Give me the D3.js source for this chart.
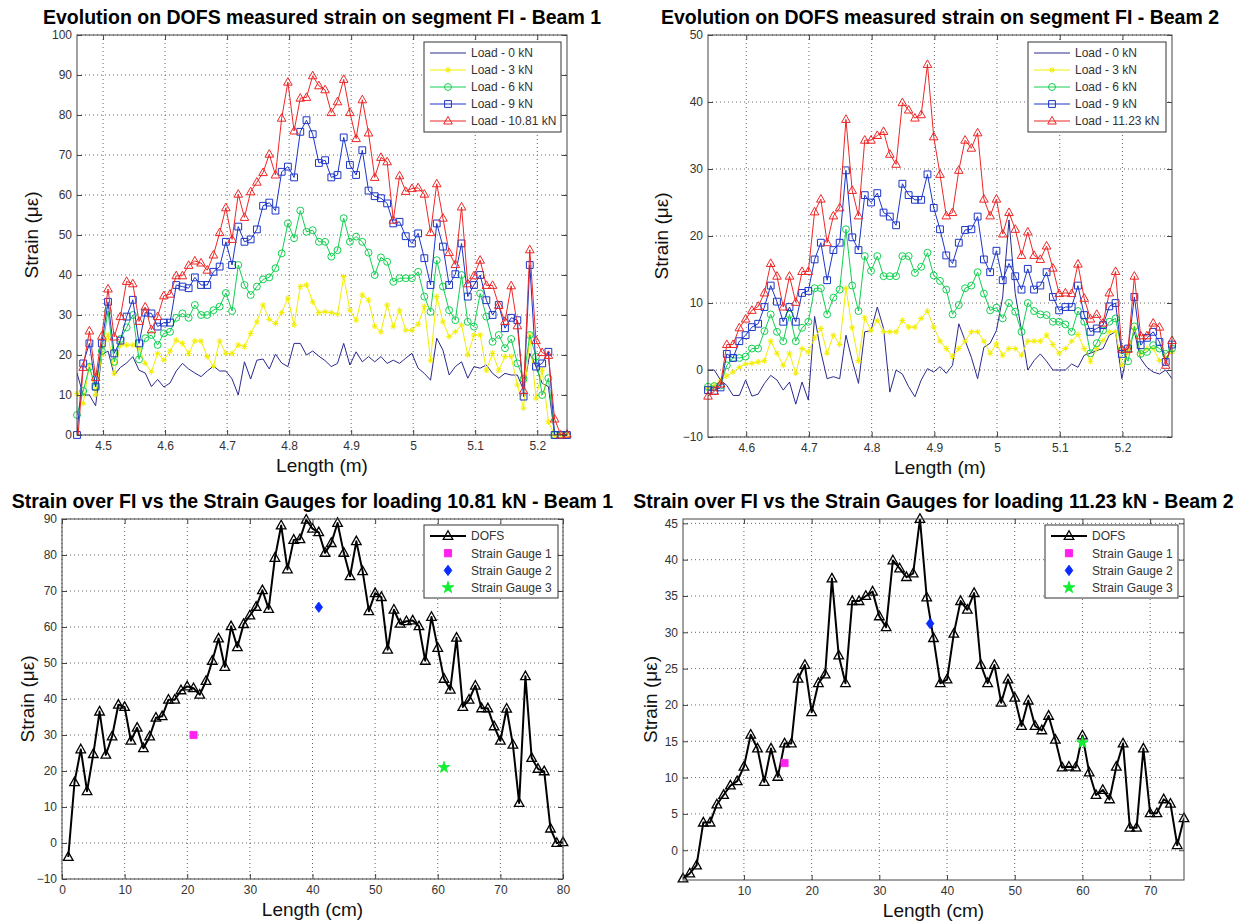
<!DOCTYPE html>
<html>
<head>
<meta charset="utf-8">
<script src="https://cdn.jsdelivr.net/npm/d3@7/dist/d3.min.js"></script>
<style>
body { margin: 0; background: #fff; }
svg { font-family: Arial, "Liberation Sans", sans-serif; }
</style>
</head>
<body>
<script>
// ---- Beam 1 : DOFS segment FI, 80 readings (1 cm apart), start of segment in metres
var beam1Start = 4.458;
var beam1Cm = [1,2,3,4,5,6,7,8,9,10,11,12,13,14,15,16,17,18,19,20,
	21,22,23,24,25,26,27,28,29,30,31,32,33,34,35,36,37,38,39,40,
	41,42,43,44,45,46,47,48,49,50,51,52,53,54,55,56,57,58,59,60,
	61,62,63,64,65,66,67,68,69,70,71,72,73,74,75,76,77,78,79,80];

var beam1Load0 = [15.5,10,10,7.3,20,21,15,16.9,18,19.6,
	16.2,15.5,12.1,13.9,12,13,16,17.9,16.5,15.5,
	14.6,16,17.2,16,16,14,10,18.3,14,18.7,
	19,16.5,20.2,18,17.1,22.9,22.9,20,21,19.7,
	18.6,17.1,17.9,22.9,17.5,20.8,18.3,19.6,18.3,19.6,
	17.9,18.7,17.9,19.2,20.4,16.7,15.4,13.7,24.2,21.2,
	15,17.1,18.3,14.2,17.1,16.7,17.5,15.4,14.2,15.4,
	15,15,11.2,20.4,17.1,12.9,12.1,0,0,0];
var beam1Load3 = [10.4,7.9,17.5,10,20,25,15.4,22.5,22.5,22.5,
	21.7,17.9,15.8,20.4,18.7,21,23.7,22.9,20.4,23.5,
	23.5,19.6,17.1,23.5,20.4,20.4,22.5,22.1,25.4,28.3,
	32.5,28.9,27.9,30.6,34.2,27.5,37.1,37.5,33.3,30.6,
	30.8,30.6,30.2,39.6,31.2,28.7,35,33.7,27.2,25.8,
	32.5,27.1,31.2,26.2,26.2,27.7,32.1,18.7,34.6,28.3,
	24.6,25.8,27.5,20,25,25,16.2,20.4,16.2,19.6,
	19.6,12.5,6.7,25,9.2,16.2,3.3,0,0,0];
var beam1Load6 = [5,11,17,12,21,31,18.3,24,26.9,30,
	18.9,24.2,25,22.5,25.4,25.8,29.3,30.4,29.3,32.5,
	30,30,31.2,32.1,35.5,31,42.5,37.5,35,37.1,
	38.9,39.4,41.7,45.4,52.9,49.2,56.1,50.8,51.2,48.3,
	48.3,44.6,46.2,54.2,48.3,49.6,48.3,45.6,40,44.4,
	43.3,38.3,39.2,39.2,39.2,40.8,34.6,30.8,43.7,37.1,
	31.2,28.7,40,28.3,27.1,35.4,29.6,23.3,25,21.7,
	24,17.9,14,25,19.6,10,14.2,0,0,0];
var beam1Load9 = [0,17.9,22.9,12.1,22.9,33.3,20.4,23.6,29.6,33.8,
	22.9,30.6,30.4,27.1,28.1,28.1,37.5,37.1,36.7,39.4,
	37.5,37.5,40.8,42.1,48.3,42.5,52.1,48.3,48.9,51.4,
	57.3,58.1,56.1,65.8,67.1,64.4,75.8,78.7,75.2,68,
	68.7,64.4,65,74.4,67.5,65,71.2,61.1,59.7,59.2,
	57.9,52.9,53.3,49.7,47.9,50.4,44.2,37.5,52.9,47.1,
	37.5,40.2,47.9,34.6,37.5,40,33.7,30,32.5,26.7,
	29.3,28.7,9.6,42.5,17.1,17.9,20.8,0,0,0];
// 10.81 kN = the DOFS curve of the lower left chart
var beam1Load1081 = [-3.9,16.9,26,14.4,24.7,36.5,24.5,29.6,38.4,37.8,
	28.4,32,26.3,29.6,34.8,35.2,39.8,39.8,42.4,43.5,
	43,41.2,45,50.6,56.8,48.9,60.2,54.4,60.8,63.2,
	65.6,70.2,65,79.2,88.2,76,84.2,84.4,89.8,87.3,
	86.3,80.6,83.3,88.9,80.6,74.1,83.8,75.5,64.4,69.4,
	68.3,53.7,64.8,60.9,61.6,61.8,60.2,50.6,62.8,54.2,
	45.6,42.6,57,37.8,39.8,43.7,37.4,37.4,32.4,28.4,
	37.3,27.3,11.1,46.3,23.6,20.6,19.9,4,0,0.2];
var beam1GaugeCm = [21, 41, 61];
var beam1GaugeStrain = [30, 65.5, 21];

// ---- Beam 2 : 75 readings
var beam2Start = 4.539;
var beam2Cm = [1,2,3,4,5,6,7,8,9,10,11,12,13,14,15,16,17,18,19,20,
	21,22,23,24,25,26,27,28,29,30,31,32,33,34,35,36,37,38,39,40,
	41,42,43,44,45,46,47,48,49,50,51,52,53,54,55,56,57,58,59,60,
	61,62,63,64,65,66,67,68,69,70,71,72,73,74,75];

var beam2Load0 = [0,0,-1.5,-2.3,-3.8,-3.8,-1.5,-3.9,-3.6,-2,
	-0.8,-1.5,-3,-1.8,-5.1,-1.8,-4.5,8,2.7,-1.3,
	-1,-1.3,5.2,1.4,-2,5.7,5.9,9.4,6.2,-3.3,
	0,-0.6,-2.5,-4,-1.5,0.2,-0.3,0.5,-0.5,0.7,
	6.9,4.4,1.9,-1.3,3.4,4,5.9,10.9,22.4,11.4,
	5.9,0,1.4,2.4,1.3,0,0,0,0.9,0.4,
	2.2,2.5,2.9,3.2,5.2,5.7,-1.3,3.2,5.7,1.7,
	0.4,-0.3,-0.6,0,-1.3];
var beam2Load3 = [-2.8,-2.3,-1.6,-0.9,-0.3,0.4,0.9,1,1.2,1.4,
	4.3,2.5,0.7,2.5,-0.5,3.2,2.7,4.8,6.2,2.5,
	5.2,3.8,12.2,6.3,1.4,7.8,5.9,7.4,5.7,5.7,
	5.7,7.4,6.4,6.4,7.7,8.8,6.4,4.3,3.2,2,
	3.2,4.3,5.7,5.7,4.3,2.5,3.9,2.2,3.2,3.2,
	2.2,4.3,4.3,4.3,5.2,3.8,2.5,3.2,4.3,5.3,
	3.2,1.3,3.2,4.4,5.7,5.7,0.7,2.7,6.2,2.5,
	3.2,3.2,1.4,1.9,2.7];
var beam2Load6 = [-2.5,-2.4,-2.3,0.7,1.8,1.8,2,3.2,3.2,5.8,
	8.3,5.7,4.3,8.3,4.3,6.3,7.2,12.2,12.2,8.3,
	10.8,12,21,12.6,8.8,17,14.8,17,14,14,
	14,17,17,14.5,15.4,17.5,14.1,13.3,12,8.3,
	9.7,12.2,12.6,14.6,11.4,8.9,9.3,7.7,10,8.7,
	5.7,10,8.8,8.3,8.2,7.2,7.2,6.8,5.7,8.8,
	7.2,2.5,4,5.9,7.2,7.7,3,1.3,6.5,2.4,
	2.7,3.7,3.2,2.4,3.2];
var beam2Load9 = [-3,-3.1,-2.6,2.4,1.8,4.3,5.2,6.4,6.9,9.4,
	12.6,10.2,7.2,9.4,7.2,11.5,11.8,16.5,19,13.4,
	17.9,19,29.8,19.8,17.9,26.1,25,26.4,23.5,22.9,
	21.6,27.8,26.1,25.4,25.4,29.2,24.2,21,17.1,15.9,
	19,20.9,21,22.9,16.5,14.6,17.8,13.4,15.9,14,
	12,15.1,12,12.6,14.6,10.9,8.9,9.4,9.4,12.6,
	8.2,5.7,6.2,6.7,9.5,10,2.4,3.2,10.9,3.7,
	4.8,5.7,4.2,1.2,3.8];
// 11.23 kN = the DOFS curve of the lower right chart
var beam2Load1123 = [-3.9,-3.2,-2.1,3.8,3.8,6.3,7.6,8.9,9.5,11.5,
	15.9,14,9.4,14,10.1,14.7,14.7,23.6,25.5,19,
	23,24.2,37.4,26.8,23,34.3,34.3,35,35.6,32.2,
	30.7,39.9,38.8,37.6,38.1,45.6,34.8,29.2,23,23.5,
	29.8,34.3,33.1,35.4,25.5,23,25.5,20.3,23.5,21,
	17.1,20.6,17.1,16.5,18.5,15.2,11.4,11.5,11.4,15.8,
	10.7,7.6,8.3,7,11.5,14.7,3.1,3.1,14,5.1,
	5.1,7,6.4,0.7,4.4];
var beam2GaugeCm = [16, 37.5, 60];
var beam2GaugeStrain = [12, 31.2, 14.8];

var loadNames1 = ["Load - 0 kN", "Load - 3 kN", "Load - 6 kN", "Load - 9 kN", "Load - 10.81 kN"];
var loadNames2 = ["Load - 0 kN", "Load - 3 kN", "Load - 6 kN", "Load - 9 kN", "Load - 11.23 kN"];
var gaugeNames = ["DOFS", "Strain Gauge 1", "Strain Gauge 2", "Strain Gauge 3"];

var ticksMetre1 = [4.5, 4.6, 4.7, 4.8, 4.9, 5, 5.1, 5.2];
var ticksMetre2 = [4.6, 4.7, 4.8, 4.9, 5, 5.1, 5.2];
var ticksStrain1 = [0,10,20,30,40,50,60,70,80,90,100];
var ticksStrain2 = [-10,0,10,20,30,40,50];
var ticksCm1 = [0,10,20,30,40,50,60,70,80];
var ticksStrainG1 = [-10,0,10,20,30,40,50,60,70,80,90];
var ticksCm2 = [10,20,30,40,50,60,70];
var ticksStrainG2 = [0,5,10,15,20,25,30,35,40,45];

function toMetre(start, cm) {
	return cm.map(function(c) { return start + (c - 1) / 100; });
}

// ---- styles
var loadStyles = [
	{color: "#2a2a90", marker: null},
	{color: "#f2ee00", marker: "ast"},
	{color: "#12d050", marker: "circ"},
	{color: "#1c35c8", marker: "sq"},
	{color: "#ee2626", marker: "tri"}
];

function markerPath(type) {
	if (type == "tri") return "M0,-4.6L4.3,3L-4.3,3Z";
	if (type == "triB") return "M0,-5.2L4.8,3.4L-4.8,3.4Z";
	if (type == "sq") return "M-3.4,-3.4H3.4V3.4H-3.4Z";
	if (type == "circ") return d3.symbol().type(d3.symbolCircle).size(38)();
	if (type == "ast") return "M-3,0H3M0,-3V3M-2.1,-2.1L2.1,2.1M-2.1,2.1L2.1,-2.1";
	if (type == "fsq") return "M-3.6,-3.6H3.6V3.6H-3.6Z";
	if (type == "dia") return "M0,-5.2L3.8,0L0,5.2L-3.8,0Z";
	if (type == "star") return d3.symbol().type(d3.symbolStar).size(42)();
	return "";
}

var svg = d3.select("body").append("svg")
	.attr("width", 1251)
	.attr("height", 921);

function drawPanel(p) {
	var left = p.box[0], top = p.box[1], right = p.box[2], bottom = p.box[3];
	var x = d3.scaleLinear().domain(p.xDomain).range([left, right]);
	var y = d3.scaleLinear().domain(p.yDomain).range([bottom, top]);
	var g = svg.append("g");

	g.append("rect")
		.attr("x", left).attr("y", top)
		.attr("width", right - left).attr("height", bottom - top)
		.attr("fill", "#fff");

	// dotted grid
	g.selectAll(".vgrid").data(p.xTicks).enter().append("line")
		.attr("x1", function(d) { return x(d); })
		.attr("x2", function(d) { return x(d); })
		.attr("y1", top).attr("y2", bottom)
		.attr("stroke", "#666").attr("stroke-width", 1)
		.attr("stroke-dasharray", "1,3");
	g.selectAll(".hgrid").data(p.yTicks).enter().append("line")
		.attr("x1", left).attr("x2", right)
		.attr("y1", function(d) { return y(d); })
		.attr("y2", function(d) { return y(d); })
		.attr("stroke", "#666").attr("stroke-width", 1)
		.attr("stroke-dasharray", "1,3");

	var clipId = "clip" + p.id;
	svg.append("clipPath").attr("id", clipId).append("rect")
		.attr("x", left).attr("y", top)
		.attr("width", right - left).attr("height", bottom - top);

	p.series.forEach(function(s) {
		var pts = s.xs.map(function(xv, i) { return [xv, s.values[i]]; });
		var line = d3.line()
			.x(function(d) { return x(d[0]); })
			.y(function(d) { return y(d[1]); });
		g.append("path")
			.attr("d", line(pts))
			.attr("fill", "none")
			.attr("stroke", s.color)
			.attr("stroke-width", s.width)
			.attr("stroke-linejoin", "round")
			.attr("clip-path", "url(#" + clipId + ")");
		if (s.marker) {
			var inside = pts.filter(function(d) {
				return d[1] >= p.yDomain[0] - 0.05 && d[1] <= p.yDomain[1] + 0.05;
			});
			g.selectAll(null).data(inside).enter().append("path")
				.attr("d", markerPath(s.marker))
				.attr("transform", function(d) { return "translate(" + x(d[0]) + "," + y(d[1]) + ")"; })
				.attr("fill", "none")
				.attr("stroke", s.markerColor || s.color)
				.attr("stroke-width", s.markerWidth || 1);
		}
	});

	(p.gauges || []).forEach(function(gg) {
		g.append("path")
			.attr("d", markerPath(gg.marker))
			.attr("transform", "translate(" + x(gg.x) + "," + y(gg.y) + ")")
			.attr("fill", gg.color)
			.attr("stroke", gg.color)
			.attr("stroke-width", 0.8);
	});

	// box + inward ticks on all sides
	var bottomAxis = g.append("g").attr("transform", "translate(0," + bottom + ")")
		.call(d3.axisBottom(x).tickValues(p.xTicks).tickFormat(p.xFormat)
			.tickSizeInner(-5).tickSizeOuter(0).tickPadding(6));
	var leftAxis = g.append("g").attr("transform", "translate(" + left + ",0)")
		.call(d3.axisLeft(y).tickValues(p.yTicks).tickFormat(d3.format(""))
			.tickSizeInner(-5).tickSizeOuter(0).tickPadding(5));
	var topAxis = g.append("g").attr("transform", "translate(0," + top + ")")
		.call(d3.axisTop(x).tickValues(p.xTicks).tickFormat("")
			.tickSizeInner(-5).tickSizeOuter(0));
	var rightAxis = g.append("g").attr("transform", "translate(" + right + ",0)")
		.call(d3.axisRight(y).tickValues(p.yTicks).tickFormat("")
			.tickSizeInner(-5).tickSizeOuter(0));
	[bottomAxis, leftAxis, topAxis, rightAxis].forEach(function(a) {
		a.attr("font-family", null).attr("font-size", 12);
		a.select(".domain").remove();
		a.selectAll(".tick line").attr("stroke", "#444");
		a.selectAll(".tick text").attr("fill", "#333");
	});

	g.append("rect")
		.attr("x", left).attr("y", top)
		.attr("width", right - left).attr("height", bottom - top)
		.attr("fill", "none").attr("stroke", "#444").attr("stroke-width", 1);

	// texts
	g.append("text")
		.attr("x", (left + right) / 2).attr("y", top - 11)
		.attr("text-anchor", "middle")
		.attr("font-size", 19.5).attr("font-weight", "bold")
		.attr("fill", "#000")
		.text(p.title);
	g.append("text")
		.attr("x", (left + right) / 2).attr("y", bottom + 37)
		.attr("text-anchor", "middle")
		.attr("font-size", 19).attr("fill", "#111")
		.text(p.xLabel);
	g.append("text")
		.attr("transform", "translate(" + p.yLabelX + "," + ((top + bottom) / 2) + ") rotate(-90)")
		.attr("text-anchor", "middle")
		.attr("font-size", 19).attr("fill", "#111")
		.text("Strain (με)");

	// legend
	var lg = p.legend;
	var leg = g.append("g");
	leg.append("rect")
		.attr("x", lg.x).attr("y", lg.y)
		.attr("width", lg.w).attr("height", lg.h)
		.attr("fill", "#fff").attr("stroke", "#333").attr("stroke-width", 1);
	lg.items.forEach(function(it, i) {
		var ry = lg.y + lg.first + i * lg.step;
		if (it.line) {
			leg.append("line")
				.attr("x1", lg.x + 6).attr("x2", lg.x + 42)
				.attr("y1", ry).attr("y2", ry)
				.attr("stroke", it.color).attr("stroke-width", it.width);
		}
		if (it.marker) {
			leg.append("path")
				.attr("d", markerPath(it.marker))
				.attr("transform", "translate(" + (lg.x + 24) + "," + ry + ")")
				.attr("fill", it.filled ? it.color : "none")
				.attr("stroke", it.markerColor || it.color)
				.attr("stroke-width", it.markerWidth || 1);
		}
		leg.append("text")
			.attr("x", lg.x + 47).attr("y", ry)
			.attr("dy", "0.36em")
			.attr("font-size", 12).attr("fill", "#333")
			.text(it.name);
	});
}

function loadSeries(xs, lists) {
	return lists.map(function(vals, i) {
		return {xs: xs, values: vals, color: loadStyles[i].color, width: 1, marker: loadStyles[i].marker};
	});
}

function loadLegend(names) {
	return names.map(function(n, i) {
		return {name: n, line: true, color: loadStyles[i].color, width: 1, marker: loadStyles[i].marker};
	});
}

var gaugeStyles = [
	{color: "#ff22ee", marker: "fsq"},
	{color: "#0a2cff", marker: "dia"},
	{color: "#11ee33", marker: "star"}
];

function gaugeLegend() {
	var items = [{name: gaugeNames[0], line: true, color: "#000", width: 2, marker: "triB", markerWidth: 1.3}];
	gaugeStyles.forEach(function(gs, i) {
		items.push({name: gaugeNames[i + 1], line: false, color: gs.color, marker: gs.marker, filled: true});
	});
	return items;
}

function gaugePoints(cm, strain) {
	return cm.map(function(c, i) {
		return {x: c, y: strain[i], color: gaugeStyles[i].color, marker: gaugeStyles[i].marker};
	});
}

var metre1 = toMetre(beam1Start, beam1Cm);
var metre2 = toMetre(beam2Start, beam2Cm);

drawPanel({
	id: 1, box: [77, 35, 567, 435],
	xDomain: [4.458, 5.248], yDomain: [0, 100],
	xTicks: ticksMetre1, yTicks: ticksStrain1, xFormat: d3.format(""),
	title: "Evolution on DOFS measured strain on segment FI - Beam 1",
	xLabel: "Length (m)", yLabelX: 38,
	series: loadSeries(metre1, [beam1Load0, beam1Load3, beam1Load6, beam1Load9, beam1Load1081]),
	legend: {x: 424, y: 42, w: 137, h: 90, first: 11, step: 17, items: loadLegend(loadNames1)}
});

drawPanel({
	id: 2, box: [708, 35, 1172, 437],
	xDomain: [4.539, 5.279], yDomain: [-10, 50],
	xTicks: ticksMetre2, yTicks: ticksStrain2, xFormat: d3.format(""),
	title: "Evolution on DOFS measured strain on segment FI - Beam 2",
	xLabel: "Length (m)", yLabelX: 668,
	series: loadSeries(metre2, [beam2Load0, beam2Load3, beam2Load6, beam2Load9, beam2Load1123]),
	legend: {x: 1028, y: 42, w: 138, h: 90, first: 11, step: 17, items: loadLegend(loadNames2)}
});

drawPanel({
	id: 3, box: [62, 519, 563, 879],
	xDomain: [0, 80], yDomain: [-10, 90],
	xTicks: ticksCm1, yTicks: ticksStrainG1, xFormat: d3.format(""),
	title: "Strain over FI vs the Strain Gauges for loading 10.81 kN - Beam 1",
	xLabel: "Length (cm)", yLabelX: 34,
	series: [{xs: beam1Cm, values: beam1Load1081, color: "#000", width: 2, marker: "triB", markerWidth: 1.3}],
	gauges: gaugePoints(beam1GaugeCm, beam1GaugeStrain),
	legend: {x: 424, y: 525, w: 134, h: 73, first: 11, step: 17.2, items: gaugeLegend()}
});

drawPanel({
	id: 4, box: [683, 519, 1184, 880],
	xDomain: [1, 75], yDomain: [-4.1, 45.6],
	xTicks: ticksCm2, yTicks: ticksStrainG2, xFormat: d3.format(""),
	title: "Strain over FI vs the Strain Gauges for loading 11.23 kN - Beam 2",
	xLabel: "Length (cm)", yLabelX: 657,
	series: [{xs: beam2Cm, values: beam2Load1123, color: "#000", width: 2, marker: "triB", markerWidth: 1.3}],
	gauges: gaugePoints(beam2GaugeCm, beam2GaugeStrain),
	legend: {x: 1045, y: 525, w: 133, h: 73, first: 11, step: 17.2, items: gaugeLegend()}
});
</script>
</body>
</html>
